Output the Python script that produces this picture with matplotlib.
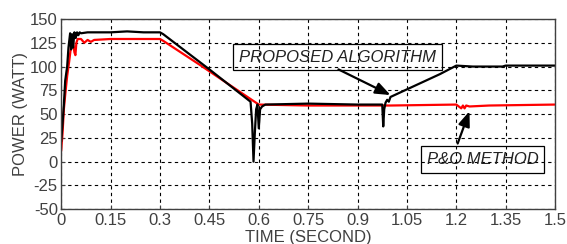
import matplotlib.pyplot as plt

plt.rcParams['font.family'] = ['Liberation Sans', 'DejaVu Sans']

# Proposed algorithm (black) - time in seconds, power in watts
t_prop = [0.0, 0.004, 0.008, 0.012, 0.018, 0.022, 0.027, 0.030, 0.033, 0.036, 0.040, 0.044,
          0.048, 0.052, 0.056, 0.06, 0.08, 0.1, 0.15, 0.2, 0.25, 0.29, 0.30, 0.31,
          0.45, 0.575, 0.580, 0.584, 0.588, 0.592, 0.596, 0.600, 0.604, 0.610,
          0.62, 0.75, 0.9, 0.975, 0.978, 0.981, 0.985, 0.990, 0.995, 1.0, 1.05,
          1.1, 1.15, 1.2, 1.25, 1.3, 1.34, 1.35, 1.4, 1.5]
p_prop = [22, 40, 60, 85, 100, 120, 135, 118, 134, 120, 136, 130,
          136, 133, 136, 135, 136, 136, 136, 137, 136, 136, 136, 134,
          97, 63, 40, 0, 30, 55, 60, 35, 55, 58,
          60, 61, 60, 60, 37, 55, 62, 65, 63, 68, 76,
          84, 92, 101, 100, 100, 100, 101, 101, 101]

# P&O method (red)
t_po = [0.0, 0.004, 0.008, 0.012, 0.018, 0.024, 0.030, 0.035, 0.040, 0.043, 0.046,
        0.050, 0.06, 0.07, 0.08, 0.09, 0.1, 0.15, 0.2, 0.25, 0.3, 0.31,
        0.42, 0.6, 0.75, 0.9, 1.0, 1.2, 1.215, 1.22, 1.225, 1.23, 1.24, 1.3, 1.5]
p_po = [12, 30, 55, 70, 90, 105, 122, 127, 115, 112, 125,
        129, 129, 125, 128, 126, 128, 129, 129, 129, 129, 127,
        102, 60, 59, 59, 59, 60, 56, 59, 56, 59, 58, 59, 60]

fig, ax = plt.subplots(figsize=(5.67, 2.44), dpi=100)
fig.subplots_adjust(left=0.108, right=0.979, top=0.922, bottom=0.143)

ax.plot(t_po, p_po, color='red', linewidth=1.6)
ax.plot(t_prop, p_prop, color='black', linewidth=1.6)

ax.set_xlim(0, 1.5)
ax.set_ylim(-50, 150)
ax.set_xticks([0, 0.15, 0.3, 0.45, 0.6, 0.75, 0.9, 1.05, 1.2, 1.35, 1.5])
ax.set_xticklabels(['0', '0.15', '0.3', '0.45', '0.6', '0.75', '0.9', '1.05', '1.2', '1.35', '1.5'])
ax.set_yticks(range(-50, 151, 25))
ax.set_yticklabels([str(v) for v in range(-50, 151, 25)])
ax.tick_params(labelsize=12, colors='#404040', length=3, direction='in', pad=2.5)
ax.grid(True, color='black', linestyle=(0, (3, 3)), linewidth=0.8)
for s in ax.spines.values():
    s.set_linewidth(1.0)
    s.set_color('#404040')

ax.set_xlabel('TIME (SECOND)', fontsize=12, color='#404040', labelpad=2)
ax.set_ylabel('POWER (WATT)', fontsize=12, color='#404040', labelpad=1)

# text boxes
box = dict(boxstyle='square,pad=0.35', facecolor='none', edgecolor='black', linewidth=0.9)
ax.text(0.839, 110, 'PROPOSED ALGORITHM', fontsize=12, style='italic', color='#222222',
        ha='center', va='center', bbox=box)
ax.text(1.28, 2, 'P&O METHOD', fontsize=12, style='italic', color='#222222',
        ha='center', va='center', bbox=box)

# arrows from the boxes to the curves
arrow = dict(arrowstyle='-|>,head_length=0.9,head_width=0.35', color='black', lw=1.6,
             shrinkA=0, shrinkB=0)
ax.annotate('', xy=(1.0, 70), xytext=(0.842, 97), arrowprops=arrow)
ax.annotate('', xy=(1.24, 53), xytext=(1.204, 19), arrowprops=arrow)

plt.savefig('out.png', dpi=100)
